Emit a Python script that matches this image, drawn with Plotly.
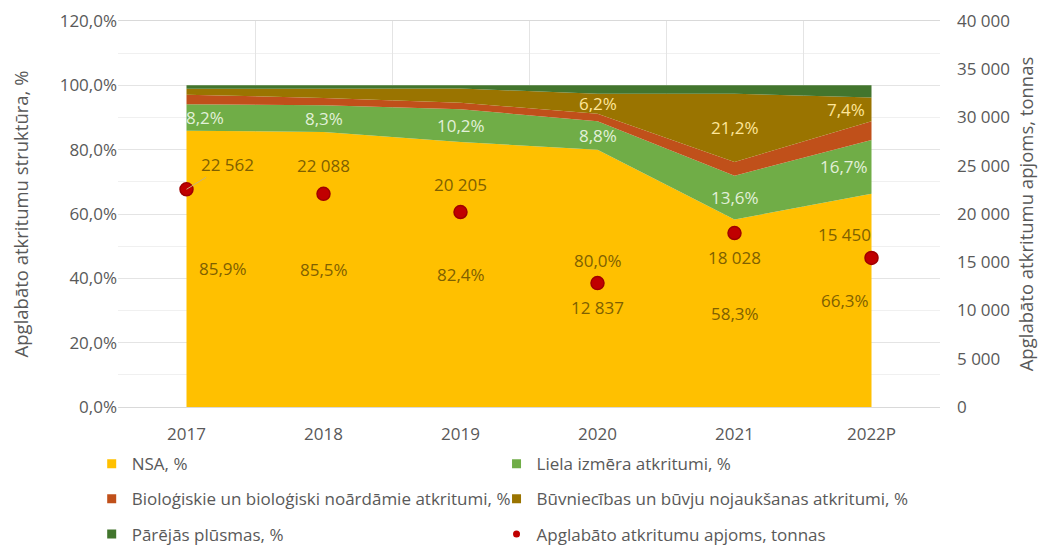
import plotly.graph_objects as go

years = ['2017', '2018', '2019', '2020', '2021', '2022P']
nsa = [85.9, 85.5, 82.4, 80.0, 58.3, 66.3]
liela = [8.2, 8.3, 10.2, 8.8, 13.6, 16.7]
bio = [3.0, 2.3, 2.0, 2.4, 4.3, 5.8]
buvn = [1.8, 2.9, 4.4, 6.2, 21.2, 7.4]
parejas = [1.1, 1.0, 1.0, 2.6, 2.6, 3.8]
apjoms = [22562, 22088, 20205, 12837, 18028, 15450]

names = ['NSA, %', 'Liela izmēra atkritumi, %',
         'Bioloģiskie un bioloģiski noārdāmie atkritumi, %',
         'Būvniecības un būvju nojaukšanas atkritumi, %',
         'Pārējās plūsmas, %']
series = [nsa, liela, bio, buvn, parejas]
colors = ['#FFC000', '#70AD47', '#C0501A', '#9A7400', '#42752D']
dot_name = 'Apglabāto atkritumu apjoms, tonnas'

FONT = 'Open Sans, sans-serif'
GREY = '#595959'
SZ = 17

fig = go.Figure()

for name, vals, col in zip(names, series, colors):
    fig.add_trace(go.Scatter(
        x=years, y=vals, name=name, stackgroup='one',
        mode='lines', line=dict(width=0, color=col),
        fillcolor=col, showlegend=False, hoverinfo='skip',
    ))

fig.add_trace(go.Scatter(
    x=years, y=apjoms, name=dot_name, yaxis='y2', mode='markers',
    marker=dict(size=13, color='#C00000', line=dict(width=1.5, color='#A00000')),
    showlegend=False,
))

# legend proxies, one small legend per entry (2 columns x 3 rows)
leg_ids = ['legend', 'legend2', 'legend3', 'legend4', 'legend5', 'legend6']
for name, col, lg in zip(names, colors, leg_ids):
    fig.add_trace(go.Scatter(
        x=[None], y=[None], name=name, mode='markers', legend=lg,
        marker=dict(symbol='square', size=9, color=col),
    ))
fig.add_trace(go.Scatter(
    x=[None], y=[None], name=dot_name, mode='markers', legend='legend6',
    marker=dict(symbol='circle', size=7, color='#C00000'),
))

# data labels in the middle of the bands (x as category index)
def band_labels(idx, show, shifts, color):
    for i in range(len(years)):
        if not show[i]:
            continue
        base = sum(s[i] for s in series[:idx])
        v = series[idx][i]
        dx, dy = shifts[i]
        fig.add_annotation(
            x=i, y=base + v / 2, text=f'{v:.1f}%'.replace('.', ','),
            showarrow=False, xshift=dx, yshift=dy,
            font=dict(family=FONT, size=SZ, color=color),
        )

band_labels(0, [1] * 6, [(36, 0), (0, 0), (0, 0), (0, 18), (0, 0), (-27, 0)], '#7F6000')
band_labels(1, [1] * 6, [(18, 0), (0, 0), (0, 0), (0, 0), (0, 0), (-28, 0)], '#E2F0D9')
band_labels(3, [0, 0, 0, 1, 1, 1], [(0, 0)] * 5 + [(-26, 0)], '#FFE699')

# labels for the points
dot_shift = [None, (0, 28), (0, 28), (0, -24), (0, -24), (-27, 23)]
for i in range(len(years)):
    txt = f'{apjoms[i]:,}'.replace(',', ' ')
    if dot_shift[i] is None:
        fig.add_annotation(
            x=i, y=apjoms[i], yref='y2', text=txt, showarrow=True,
            arrowhead=0, arrowwidth=1, arrowcolor='#C9B27A', ax=41, ay=-25,
            font=dict(family=FONT, size=SZ, color='#7F6000'),
        )
    else:
        dx, dy = dot_shift[i]
        fig.add_annotation(
            x=i, y=apjoms[i], yref='y2', text=txt, showarrow=False,
            xshift=dx, yshift=dy,
            font=dict(family=FONT, size=SZ, color='#7F6000'),
        )

leg = dict(
    orientation='h', xanchor='left', yanchor='middle',
    font=dict(family=FONT, size=SZ, color=GREY),
    bgcolor='rgba(0,0,0,0)',
)
col_x = [-0.032, 0.4605]
row_y = [-0.148, -0.239, -0.330]
legends = {}
for k, lg in enumerate(leg_ids):
    legends[lg] = dict(leg, x=col_x[k % 2], y=row_y[k // 2])

fig.update_layout(
    width=1047, height=560,
    font=dict(family=FONT, size=SZ, color=GREY),
    margin=dict(l=110, r=115, t=13, b=161),
    plot_bgcolor='white', paper_bgcolor='white',
    separators=', ',
    **legends,
    xaxis=dict(
        type='category', range=[-0.5, 5.5], tickson='boundaries',
        showgrid=True, gridcolor='#E4E4E4', ticks='', ticklabelstandoff=12,
        showline=True, linecolor='#D9D9D9', mirror=True, automargin=False,
        tickfont=dict(size=SZ, color=GREY),
    ),
    yaxis=dict(
        range=[0, 120], dtick=20, tickformat='.1f', ticksuffix='%',
        showgrid=True, gridcolor='#E4E4E4', zeroline=False, automargin=False,
        ticklabeloverflow='allow',
        minor=dict(dtick=10, showgrid=True, gridcolor='#F0F0F0'),
        title=dict(text='Apglabāto atkritumu struktūra, %', standoff=29,
                   font=dict(size=18.5, color=GREY)),
        tickfont=dict(size=SZ, color=GREY),
    ),
    yaxis2=dict(
        overlaying='y', side='right', range=[0, 40000], dtick=5000,
        tickformat=',d', showgrid=False, zeroline=False, ticklabelstandoff=16,
        automargin=False, ticklabeloverflow='allow',
        title=dict(text='Apglabāto atkritumu apjoms, tonnas', standoff=11,
                   font=dict(size=18.5, color=GREY)),
        tickfont=dict(size=SZ, color=GREY),
    ),
)

fig.write_html('out.html')
